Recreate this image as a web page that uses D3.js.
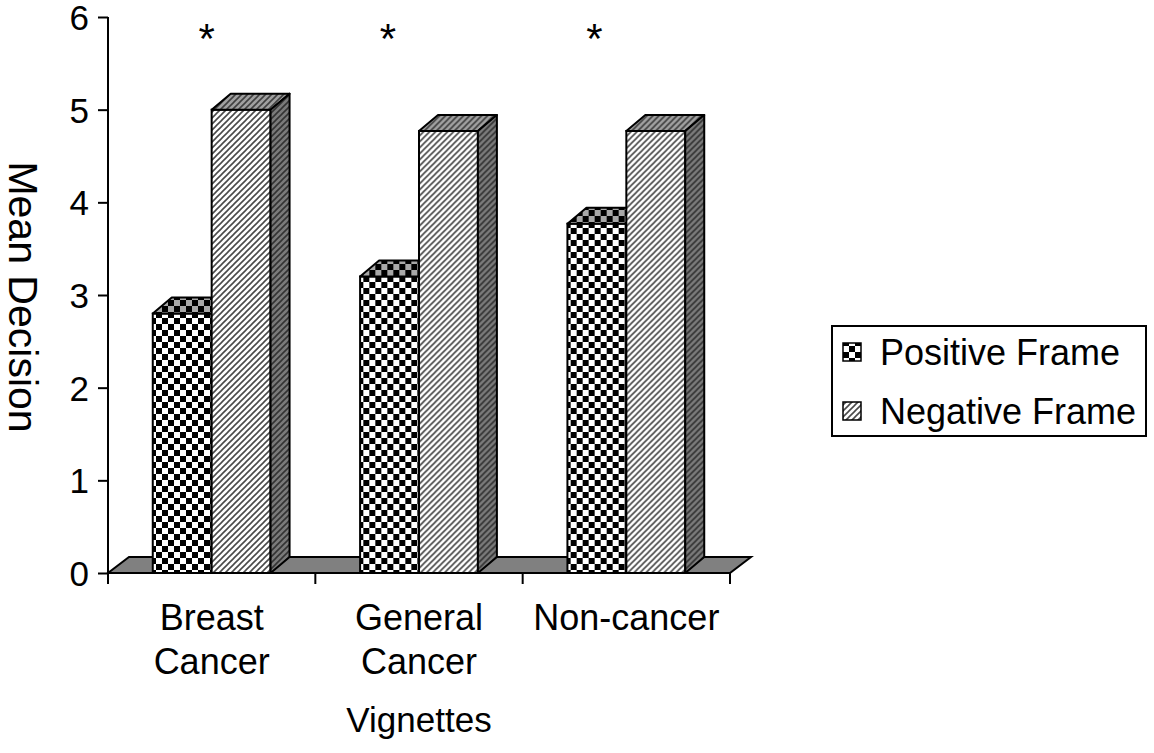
<!DOCTYPE html>
<html>
<head>
<meta charset="utf-8">
<script src="https://cdn.jsdelivr.net/npm/d3@7"></script>
<style>
  body { margin: 0; background: #fff; }
  svg text { font-family: Arial, "Liberation Sans", Helvetica, sans-serif; fill: #000; }
</style>
</head>
<body>
<script>
// data
var categories = ["Breast Cancer", "General Cancer", "Non-cancer"];
var categoryLines = [["Breast", "Cancer"], ["General", "Cancer"], ["Non-cancer"]];
var series = ["Positive Frame", "Negative Frame"];
var positiveFrame = [2.8, 3.2, 3.77];
var negativeFrame = [5.0, 4.77, 4.77];
var significant = [true, true, true];
var yTicks = [0, 1, 2, 3, 4, 5, 6];

var width = 1154, height = 753;
var depthX = 19, depthY = -16;   // 3d offset of the bars
var floorX = 21, floorY = -16;
var starShift = [-5, -31, -32];  // where the asterisks sit relative to group centre
var fontFam = "Arial, 'Liberation Sans', Helvetica, sans-serif";

var svg = d3.select("body").append("svg")
    .attr("width", width)
    .attr("height", height);

// -------- patterns --------
var defs = svg.append("defs");

function checker(id, light, dark) {
    var p = defs.append("pattern")
        .attr("id", id)
        .attr("patternUnits", "userSpaceOnUse")
        .attr("width", 12).attr("height", 12);
    p.append("rect").attr("width", 12).attr("height", 12).attr("fill", light);
    p.append("rect").attr("width", 6).attr("height", 6).attr("fill", dark);
    p.append("rect").attr("x", 6).attr("y", 6).attr("width", 6).attr("height", 6).attr("fill", dark);
}
function hatch(id, bg, line) {
    var p = defs.append("pattern")
        .attr("id", id)
        .attr("patternUnits", "userSpaceOnUse")
        .attr("width", 6).attr("height", 6);
    p.append("rect").attr("width", 6).attr("height", 6).attr("fill", bg);
    p.append("path")
        .attr("d", "M-1,7 L7,-1 M-1,1 L1,-1 M5,7 L7,5")
        .attr("stroke", line)
        .attr("stroke-width", 1.6);
}
checker("chkFront", "#ffffff", "#000000");
checker("chkTop", "#a8a8a8", "#000000");
checker("chkSide", "#707070", "#000000");
hatch("hatFront", "#ffffff", "#4a4a4a");
hatch("hatTop", "#a0a0a0", "#404040");
hatch("hatSide", "#7a7a7a", "#333333");

var fills = [
    { front: "url(#chkFront)", top: "url(#chkTop)", side: "url(#chkSide)" },
    { front: "url(#hatFront)", top: "url(#hatTop)", side: "url(#hatSide)" }
];

// -------- scales --------
var x0 = d3.scaleBand()
    .domain(categories)
    .range([108, 730])
    .padding(0);

var x1 = d3.scaleBand()
    .domain(series)
    .range([0, x0.bandwidth()])
    .paddingInner(0)
    .paddingOuter(0.76);

var y = d3.scaleLinear()
    .domain([0, 6])
    .range([573, 17]);

// -------- floor --------
var fl = [[108, y(0)], [730, y(0)], [730 + floorX, y(0) + floorY], [108 + floorX, y(0) + floorY]];
svg.append("path")
    .attr("d", "M" + fl.join("L") + "Z")
    .attr("fill", "#808080")
    .attr("stroke", "#000")
    .attr("stroke-width", 2)
    .attr("stroke-linejoin", "miter");

// -------- bars --------
var rows = categories.map(function(c, i) {
    return { cat: c, i: i, vals: [positiveFrame[i], negativeFrame[i]] };
});

var groups = svg.selectAll(".grp")
    .data(rows)
    .enter().append("g")
    .attr("class", "grp")
    .attr("transform", function(d) { return "translate(" + x0(d.cat) + ",0)"; });

groups.each(function(d) {
    var g = d3.select(this);
    series.forEach(function(s, k) {
        var bx = x1(s), bw = x1.bandwidth();
        var top = y(d.vals[k]), base = y(0);
        var f = fills[k];
        // front face
        g.append("rect")
            .attr("x", bx).attr("y", top)
            .attr("width", bw).attr("height", base - top)
            .attr("fill", f.front)
            .attr("stroke", "#000").attr("stroke-width", 2);
        // top face
        g.append("path")
            .attr("d", "M" + bx + "," + top +
                       "L" + (bx + depthX) + "," + (top + depthY) +
                       "L" + (bx + bw + depthX) + "," + (top + depthY) +
                       "L" + (bx + bw) + "," + top + "Z")
            .attr("fill", f.top)
            .attr("stroke", "#000").attr("stroke-width", 2)
            .attr("stroke-linejoin", "round");
        // side face
        g.append("path")
            .attr("d", "M" + (bx + bw) + "," + top +
                       "L" + (bx + bw + depthX) + "," + (top + depthY) +
                       "L" + (bx + bw + depthX) + "," + (base + depthY) +
                       "L" + (bx + bw) + "," + base + "Z")
            .attr("fill", f.side)
            .attr("stroke", "#000").attr("stroke-width", 2)
            .attr("stroke-linejoin", "round");
    });
});

// significance asterisks
groups.filter(function(d) { return significant[d.i]; })
    .append("text")
    .attr("x", function(d) { return x0.bandwidth() / 2 + starShift[d.i]; })
    .attr("y", 53)
    .attr("text-anchor", "middle")
    .style("font-size", "42px")
    .text("*");

// -------- axes --------
var yAxis = svg.append("g")
    .attr("transform", "translate(108,0)")
    .call(d3.axisLeft(y).tickValues(yTicks).tickFormat(d3.format("d")).tickSize(10).tickPadding(9));
yAxis.attr("font-family", fontFam);
yAxis.select(".domain").attr("stroke-width", 2).attr("d", "M0," + y(6) + "V" + y(0));
yAxis.selectAll(".tick line").attr("stroke-width", 2);
yAxis.selectAll(".tick text")
    .style("font-size", "35px")
    .attr("dy", "0.36em");

var xAxis = svg.append("g")
    .attr("transform", "translate(0," + y(0) + ")");
xAxis.append("line")
    .attr("x1", 108).attr("x2", 730)
    .attr("stroke", "#000").attr("stroke-width", 2);
var xTickPos = categories.map(function(c) { return x0(c); }).concat([x0.range()[1]]);
xAxis.selectAll(".xt")
    .data(xTickPos)
    .enter().append("line")
    .attr("class", "xt")
    .attr("x1", function(d) { return d; }).attr("x2", function(d) { return d; })
    .attr("y1", 0).attr("y2", 11)
    .attr("stroke", "#000").attr("stroke-width", 2);

// category labels
var labels = svg.selectAll(".cat")
    .data(rows)
    .enter().append("text")
    .attr("class", "cat")
    .attr("text-anchor", "middle")
    .style("font-size", "36px");
labels.selectAll("tspan")
    .data(function(d) { return categoryLines[d.i].map(function(t) { return { t: t, c: d.cat }; }); })
    .enter().append("tspan")
    .attr("x", function(d) { return x0(d.c) + x0.bandwidth() / 2; })
    .attr("y", function(d, j) { return 630 + j * 44; })
    .text(function(d) { return d.t; });

// axis titles
svg.append("text")
    .attr("x", x0(categories[1]) + x0.bandwidth() / 2)
    .attr("y", 732)
    .attr("text-anchor", "middle")
    .style("font-size", "35px")
    .text("Vignettes");

svg.append("text")
    .attr("transform", "translate(9,297) rotate(90)")
    .attr("text-anchor", "middle")
    .style("font-size", "41px")
    .text("Mean Decision");

// -------- legend --------
var legend = svg.append("g");
legend.append("rect")
    .attr("x", 832).attr("y", 326)
    .attr("width", 314).attr("height", 110)
    .attr("fill", "#fff")
    .attr("stroke", "#000").attr("stroke-width", 2);

var legendFill = ["url(#chkFront)", "url(#hatFront)"];
var items = legend.selectAll(".li")
    .data(series)
    .enter().append("g")
    .attr("class", "li")
    .attr("transform", function(d, i) { return "translate(843," + (352 + i * 59) + ")"; });
items.append("rect")
    .attr("x", 0).attr("y", -9)
    .attr("width", 18).attr("height", 18)
    .attr("fill", function(d, i) { return legendFill[i]; })
    .attr("stroke", "#000").attr("stroke-width", 1.5);
items.append("text")
    .attr("x", 37)
    .attr("y", 0)
    .attr("dy", "0.36em")
    .style("font-size", "36px")
    .text(function(d) { return d; });
</script>
</body>
</html>
